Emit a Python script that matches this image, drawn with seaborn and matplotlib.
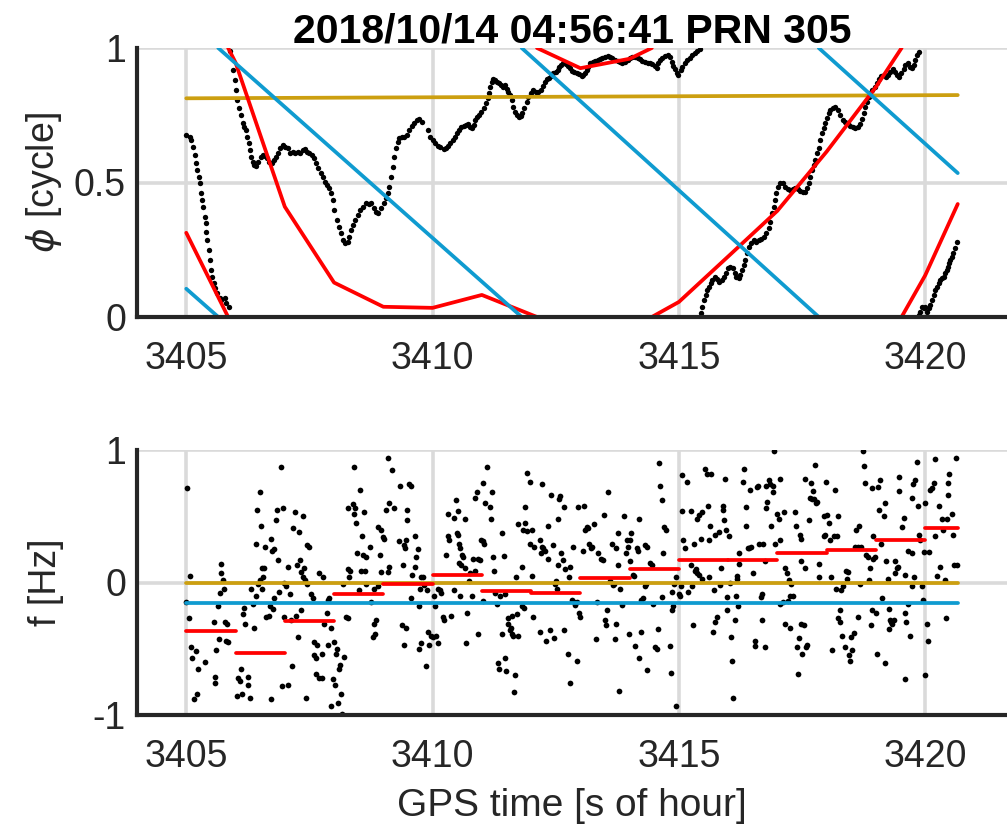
import pandas as pd
import seaborn as sns
import matplotlib.pyplot as plt

# --- valores ---
title = "2018/10/14 04:56:41 PRN 305"
xticks = [3405, 3410, 3415, 3420]
xlim = (3404, 3421.66)

# fase medida (pontos pretos), um trecho entre cada salto de ciclo
phase_1 = [(3405.000, 0.677), (3405.068, 0.670), (3405.101, 0.658), (3405.135, 0.633), (3405.169, 0.602),
           (3405.203, 0.571), (3405.223, 0.546), (3405.250, 0.522), (3405.270, 0.497), (3405.304, 0.460),
           (3405.324, 0.435), (3405.345, 0.410), (3405.372, 0.373), (3405.392, 0.348), (3405.405, 0.317),
           (3405.426, 0.286), (3405.453, 0.249), (3405.473, 0.212), (3405.507, 0.175), (3405.527, 0.150),
           (3405.554, 0.125), (3405.588, 0.107), (3405.628, 0.088), (3405.676, 0.069), (3405.709, 0.063),
           (3405.777, 0.069), (3405.811, 0.051), (3405.858, 0.038)]
phase_2 = [(3405.878, 0.990), (3405.946, 0.918), (3405.980, 0.881), (3406.000, 0.844), (3406.020, 0.807),
           (3406.061, 0.776), (3406.101, 0.751), (3406.149, 0.720), (3406.182, 0.705), (3406.216, 0.695),
           (3406.236, 0.670), (3406.264, 0.646), (3406.284, 0.621), (3406.318, 0.596), (3406.351, 0.577),
           (3406.385, 0.565), (3406.419, 0.561), (3406.453, 0.577), (3406.507, 0.596), (3406.554, 0.602),
           (3406.601, 0.599), (3406.642, 0.590), (3406.689, 0.577), (3406.736, 0.571), (3406.777, 0.584),
           (3406.824, 0.596), (3406.872, 0.608), (3406.912, 0.627), (3406.959, 0.640), (3407.007, 0.633),
           (3407.061, 0.627), (3407.115, 0.608), (3407.162, 0.615), (3407.209, 0.611), (3407.264, 0.615),
           (3407.318, 0.611), (3407.365, 0.621), (3407.412, 0.623), (3407.453, 0.615), (3407.500, 0.608),
           (3407.547, 0.602), (3407.601, 0.590), (3407.635, 0.571), (3407.682, 0.553), (3407.736, 0.534),
           (3407.770, 0.522), (3407.818, 0.503), (3407.858, 0.491), (3407.905, 0.478), (3407.939, 0.460),
           (3407.973, 0.435), (3408.007, 0.398), (3408.061, 0.361), (3408.108, 0.336), (3408.142, 0.311),
           (3408.176, 0.286), (3408.223, 0.274), (3408.277, 0.280), (3408.311, 0.299), (3408.345, 0.323),
           (3408.378, 0.342), (3408.426, 0.361), (3408.480, 0.379), (3408.534, 0.398), (3408.581, 0.410),
           (3408.649, 0.423), (3408.703, 0.420), (3408.750, 0.423), (3408.804, 0.404), (3408.851, 0.392),
           (3408.899, 0.388), (3408.953, 0.404), (3409.007, 0.423), (3409.054, 0.441), (3409.088, 0.460),
           (3409.122, 0.485), (3409.155, 0.522), (3409.189, 0.559), (3409.223, 0.596), (3409.257, 0.627),
           (3409.291, 0.652), (3409.324, 0.664), (3409.378, 0.670), (3409.426, 0.670), (3409.473, 0.677),
           (3409.527, 0.695), (3409.574, 0.710), (3409.628, 0.720), (3409.682, 0.732), (3409.730, 0.735),
           (3409.777, 0.726), (3409.905, 0.695), (3409.953, 0.670), (3410.000, 0.658), (3410.054, 0.646),
           (3410.108, 0.636), (3410.155, 0.631), (3410.223, 0.623), (3410.270, 0.627), (3410.311, 0.636),
           (3410.358, 0.646), (3410.405, 0.658), (3410.446, 0.670), (3410.493, 0.683), (3410.527, 0.695),
           (3410.581, 0.705), (3410.628, 0.710), (3410.676, 0.714), (3410.716, 0.718), (3410.764, 0.705),
           (3410.797, 0.701), (3410.831, 0.714), (3410.865, 0.732), (3410.899, 0.742), (3410.946, 0.751),
           (3410.986, 0.763), (3411.034, 0.776), (3411.081, 0.794), (3411.122, 0.813), (3411.149, 0.831),
           (3411.169, 0.856), (3411.203, 0.875), (3411.236, 0.884), (3411.270, 0.881), (3411.304, 0.875),
           (3411.351, 0.869), (3411.392, 0.862), (3411.439, 0.856), (3411.473, 0.862), (3411.507, 0.846),
           (3411.541, 0.838), (3411.574, 0.825), (3411.608, 0.807), (3411.642, 0.782), (3411.676, 0.763),
           (3411.709, 0.751), (3411.757, 0.745), (3411.797, 0.747), (3411.824, 0.757), (3411.865, 0.776),
           (3411.912, 0.800), (3411.946, 0.819), (3412.000, 0.834), (3412.047, 0.844), (3412.095, 0.838),
           (3412.149, 0.838), (3412.203, 0.844), (3412.250, 0.859), (3412.284, 0.875), (3412.318, 0.884),
           (3412.365, 0.887), (3412.405, 0.896), (3412.453, 0.906), (3412.500, 0.912), (3412.541, 0.918),
           (3412.568, 0.928), (3412.608, 0.937), (3412.655, 0.943), (3412.703, 0.941), (3412.743, 0.933),
           (3412.791, 0.924), (3412.838, 0.916), (3412.878, 0.912), (3412.926, 0.906), (3412.973, 0.902),
           (3413.027, 0.896), (3413.061, 0.900), (3413.095, 0.908), (3413.128, 0.918), (3413.162, 0.928),
           (3413.196, 0.943), (3413.230, 0.945), (3413.264, 0.949), (3413.297, 0.953), (3413.351, 0.955),
           (3413.399, 0.958), (3413.446, 0.962), (3413.500, 0.968), (3413.554, 0.970), (3413.601, 0.968),
           (3413.649, 0.962), (3413.703, 0.955), (3413.757, 0.953), (3413.804, 0.949), (3413.851, 0.945),
           (3413.905, 0.949), (3413.959, 0.955), (3414.007, 0.962), (3414.054, 0.968), (3414.108, 0.965),
           (3414.162, 0.962), (3414.209, 0.958), (3414.257, 0.953), (3414.311, 0.949), (3414.365, 0.945),
           (3414.412, 0.943), (3414.459, 0.941), (3414.514, 0.933), (3414.547, 0.924), (3414.581, 0.943),
           (3414.615, 0.955), (3414.649, 0.962), (3414.716, 0.970), (3414.770, 0.974), (3414.818, 0.965),
           (3414.851, 0.949), (3414.885, 0.933), (3414.919, 0.921), (3414.953, 0.906), (3414.986, 0.900),
           (3415.034, 0.918), (3415.068, 0.931), (3415.122, 0.943), (3415.169, 0.955), (3415.216, 0.962),
           (3415.270, 0.974), (3415.324, 0.983), (3415.372, 0.990), (3415.419, 0.995)]
phase_3 = [(3415.439, 0.016), (3415.473, 0.038), (3415.507, 0.063), (3415.541, 0.082), (3415.574, 0.100),
           (3415.608, 0.113), (3415.642, 0.125), (3415.676, 0.138), (3415.730, 0.148), (3415.777, 0.140),
           (3415.811, 0.131), (3415.865, 0.138), (3415.912, 0.148), (3415.946, 0.162), (3416.000, 0.181),
           (3416.047, 0.187), (3416.095, 0.181), (3416.135, 0.162), (3416.169, 0.148), (3416.216, 0.144),
           (3416.250, 0.156), (3416.284, 0.175), (3416.318, 0.193), (3416.351, 0.212), (3416.385, 0.237),
           (3416.419, 0.261), (3416.473, 0.274), (3416.520, 0.286), (3416.568, 0.280), (3416.622, 0.286),
           (3416.676, 0.289), (3416.723, 0.299), (3416.770, 0.311), (3416.824, 0.330), (3416.858, 0.354),
           (3416.892, 0.385), (3416.926, 0.410), (3416.946, 0.435), (3416.973, 0.460), (3417.014, 0.485),
           (3417.061, 0.497), (3417.108, 0.497), (3417.162, 0.485), (3417.216, 0.475), (3417.264, 0.472),
           (3417.311, 0.475), (3417.365, 0.478), (3417.419, 0.475), (3417.466, 0.470), (3417.514, 0.466),
           (3417.568, 0.466), (3417.601, 0.478), (3417.635, 0.497), (3417.669, 0.522), (3417.703, 0.546),
           (3417.736, 0.565), (3417.770, 0.584), (3417.804, 0.608), (3417.838, 0.627), (3417.872, 0.658),
           (3417.905, 0.683), (3417.939, 0.701), (3417.973, 0.720), (3418.007, 0.738), (3418.041, 0.757),
           (3418.074, 0.770), (3418.122, 0.776), (3418.176, 0.782), (3418.230, 0.770), (3418.277, 0.751),
           (3418.324, 0.732), (3418.378, 0.726), (3418.432, 0.720), (3418.480, 0.710), (3418.527, 0.705),
           (3418.581, 0.701), (3418.635, 0.708), (3418.682, 0.718), (3418.716, 0.735), (3418.750, 0.757),
           (3418.784, 0.782), (3418.818, 0.800), (3418.851, 0.819), (3418.885, 0.831), (3418.919, 0.844),
           (3418.973, 0.856), (3419.020, 0.869), (3419.068, 0.884), (3419.108, 0.896), (3419.155, 0.900),
           (3419.203, 0.893), (3419.243, 0.900), (3419.291, 0.912), (3419.338, 0.921), (3419.392, 0.912),
           (3419.426, 0.900), (3419.459, 0.893), (3419.514, 0.906), (3419.561, 0.921), (3419.595, 0.937),
           (3419.642, 0.943), (3419.682, 0.931), (3419.730, 0.924), (3419.764, 0.937), (3419.797, 0.955),
           (3419.831, 0.974), (3419.865, 0.986)]
phase_4 = [(3419.865, 0.007), (3419.899, 0.020), (3419.932, 0.038), (3419.966, 0.032), (3420.000, 0.038),
           (3420.034, 0.020), (3420.068, 0.032), (3420.101, 0.045), (3420.135, 0.063), (3420.169, 0.082),
           (3420.203, 0.100), (3420.236, 0.113), (3420.270, 0.125), (3420.304, 0.138), (3420.338, 0.144),
           (3420.372, 0.150), (3420.405, 0.162), (3420.439, 0.175), (3420.459, 0.187), (3420.486, 0.200),
           (3420.507, 0.212), (3420.541, 0.224), (3420.574, 0.237), (3420.608, 0.255), (3420.642, 0.280)]

# modelos de fase (linhas), trechos separados nos saltos de ciclo
red_phase = [[(3405.0, 0.313), (3405.85, 0.0)],
             [(3405.85, 1.0), (3406.0, 0.946), (3407.0, 0.41), (3408.0, 0.128), (3409.0, 0.038),
              (3410.0, 0.034), (3411.0, 0.082), (3412.12, 0.0)],
             [(3412.12, 1.0), (3413.0, 0.925), (3414.0, 0.96), (3414.45, 1.0)],
             [(3414.45, 0.0), (3415.0, 0.056), (3416.0, 0.225), (3417.0, 0.395), (3418.0, 0.615),
              (3419.0, 0.855), (3419.52, 1.0)],
             [(3419.52, 0.0), (3420.0, 0.155), (3420.66, 0.42)]]
blue_phase = [[(3405.0, 0.105), (3405.65, 0.0)],
              [(3405.65, 1.0), (3411.81, 0.0)],
              [(3411.81, 1.0), (3417.84, 0.0)],
              [(3417.84, 1.0), (3420.66, 0.535)]]
gold_phase = [[(3405.0, 0.813), (3420.66, 0.825)]]

# frequência instantânea (pontos pretos)
freq_a = [(3405.02, 0.71), (3405.07, 0.05), (3405.00, -0.15), (3405.05, -0.27), (3405.09, -0.49), (3405.11, -0.57),
          (3405.20, -0.52), (3405.24, -0.65), (3405.15, -0.88), (3405.22, -0.84), (3405.39, -0.60), (3405.57, -0.30),
          (3405.61, -0.51), (3405.59, -0.71), (3405.59, -0.76), (3405.64, -0.18), (3405.71, 0.14), (3405.71, 0.07),
          (3405.74, 0.02), (3405.76, -0.05), (3405.69, -0.08), (3405.78, -0.30), (3405.83, -0.31), (3405.66, -0.43),
          (3405.81, -0.44), (3405.84, -0.45), (3406.11, -0.65), (3406.05, -0.72), (3406.09, -0.74), (3406.03, -0.86),
          (3406.14, -0.84), (3406.25, -0.71), (3406.26, -0.77), (3406.30, -0.87), (3406.15, -0.24), (3406.18, -0.19),
          (3406.20, -0.31), (3406.37, -0.34), (3406.35, -0.16), (3406.32, -0.05), (3406.42, -0.10), (3406.45, -0.01),
          (3406.49, 0.02), (3406.53, -0.05), (3406.55, 0.04), (3406.53, 0.11), (3406.57, 0.11), (3406.42, 0.29),
          (3406.44, 0.55), (3406.49, 0.68), (3406.51, 0.43), (3406.60, 0.27), (3406.72, 0.33), (3406.74, 0.24),
          (3406.78, 0.25), (3406.62, -0.26), (3406.67, -0.25), (3406.76, -0.20), (3406.79, -0.12), (3406.69, -0.18),
          (3406.71, -0.88), (3406.87, 0.17), (3406.82, 0.47), (3406.84, 0.55), (3406.93, 0.87), (3406.96, 0.56),
          (3406.89, -0.07), (3406.99, 0.00), (3407.03, -0.03), (3406.99, -0.26), (3407.07, 0.12), (3407.11, -0.09),
          (3407.13, -0.28), (3407.14, -0.63), (3406.95, -0.78), (3407.07, -0.77), (3407.16, 0.41), (3407.21, 0.53),
          (3407.28, 0.38), (3407.36, 0.50), (3407.30, 0.17), (3407.25, 0.13), (3407.32, 0.08), (3407.39, 0.11),
          (3407.36, 0.04), (3407.42, 0.02), (3407.45, -0.01), (3407.23, -0.25), (3407.33, -0.21), (3407.26, -0.41),
          (3407.45, 0.28), (3407.50, 0.27), (3407.44, -0.87), (3407.53, -0.09), (3407.57, -0.12), (3407.60, -0.45),
          (3407.65, -0.47), (3407.59, -0.55), (3407.64, -0.69), (3407.70, -0.72), (3407.75, -0.72), (3407.69, 0.07),
          (3407.77, 0.04), (3407.75, -0.54), (3407.64, -0.57), (3407.87, -0.13), (3407.89, -0.12), (3407.86, -0.23),
          (3407.80, -0.31), (3407.94, -0.34), (3407.87, -0.47), (3407.99, -0.45), (3408.05, -0.50), (3408.04, -0.54),
          (3408.11, -0.65), (3408.13, -0.62), (3408.21, -0.56), (3407.97, -0.73), (3408.01, -0.77), (3407.93, -0.93),
          (3408.09, -0.91), (3408.14, -0.84), (3408.16, -0.99), (3408.24, -0.26), (3408.28, -0.27), (3408.28, 0.10),
          (3408.32, 0.09), (3408.31, 0.04), (3408.19, -0.01), (3408.40, 0.87), (3408.29, 0.56), (3408.38, 0.59),
          (3408.43, 0.56), (3408.41, 0.52), (3408.45, 0.45), (3408.53, 0.70), (3408.60, 0.53), (3408.57, 0.35),
          (3408.47, 0.22), (3408.55, 0.09), (3408.63, 0.09), (3408.58, 0.21), (3408.65, 0.19), (3408.72, 0.27),
          (3408.50, -0.06), (3408.65, -0.01), (3408.75, -0.15), (3408.82, -0.05), (3408.82, -0.31), (3408.85, -0.28),
          (3408.80, -0.41), (3408.84, -0.39), (3408.90, 0.42), (3408.95, 0.40), (3408.99, 0.34), (3409.02, 0.33),
          (3408.94, 0.21), (3408.89, -0.03), (3408.95, 0.08), (3409.09, 0.94), (3409.17, 0.85), (3409.06, 0.55),
          (3409.12, 0.60), (3409.21, 0.56), (3409.12, 0.12), (3409.09, 0.08), (3409.34, 0.73), (3409.57, 0.73),
          (3409.53, 0.74), (3409.49, 0.55), (3409.49, 0.47), (3409.32, 0.31), (3409.39, 0.13), (3409.41, 0.28),
          (3409.43, 0.26), (3409.46, 0.32), (3409.65, 0.35), (3409.71, 0.25), (3409.66, 0.19), (3409.64, 0.12),
          (3409.59, 0.06), (3409.76, 0.04), (3409.80, 0.04), (3409.75, -0.05), (3409.83, -0.02), (3409.88, -0.06),
          (3409.56, -0.12), (3409.72, -0.18), (3409.38, -0.32), (3409.46, -0.34), (3409.41, -0.47), (3409.76, -0.46),
          (3409.73, -0.50), (3409.86, -0.63), (3409.90, -0.37), (3409.97, -0.40), (3410.00, -0.41), (3409.93, -0.47)]
freq_b = [(3410.02, -0.10), (3410.05, -0.18), (3410.07, -0.40), (3410.10, -0.46), (3410.12, -0.05), (3410.16, -0.06),
          (3410.18, -0.08), (3410.22, -0.26), (3410.24, -0.28), (3410.38, -0.25), (3410.27, 0.21), (3410.31, 0.35),
          (3410.34, 0.32), (3410.32, 0.52), (3410.43, 0.49), (3410.47, 0.62), (3410.51, 0.54), (3410.49, 0.37),
          (3410.51, 0.36), (3410.53, 0.29), (3410.55, 0.26), (3410.43, -0.06), (3410.56, -0.10), (3410.59, 0.21),
          (3410.61, 0.19), (3410.53, 0.15), (3410.58, 0.13), (3410.65, 0.11), (3410.66, 0.48), (3410.70, -0.23),
          (3410.68, -0.46), (3410.73, 0.01), (3410.76, 0.07), (3410.80, -0.10), (3410.83, 0.18), (3410.86, 0.09),
          (3410.93, 0.18), (3410.90, 0.68), (3410.97, 0.17), (3410.86, 0.64), (3411.02, 0.75), (3410.99, 0.32),
          (3411.03, 0.31), (3411.05, 0.29), (3411.07, 0.60), (3411.11, 0.87), (3411.16, 0.57), (3411.18, 0.48),
          (3411.20, 0.68), (3410.92, -0.39), (3411.03, -0.14), (3411.22, 0.19), (3411.24, 0.09), (3411.27, -0.08),
          (3411.30, -0.16), (3411.37, -0.10), (3411.41, 0.37), (3411.45, 0.20), (3411.47, -0.09), (3411.53, -0.27),
          (3411.54, -0.31), (3411.57, -0.36), (3411.59, -0.34), (3411.62, -0.25), (3411.61, -0.39), (3411.64, -0.40),
          (3411.71, -0.24), (3411.74, -0.40), (3411.41, -0.39), (3411.32, -0.61), (3411.35, -0.65), (3411.47, -0.57),
          (3411.49, -0.67), (3411.68, -0.70), (3411.66, -0.83), (3411.70, 0.04), (3411.81, 0.12), (3411.82, -0.18),
          (3411.86, -0.19), (3411.74, 0.44), (3411.88, 0.45), (3411.88, 0.57), (3411.91, 0.83), (3411.98, 0.76),
          (3411.98, 0.29), (3411.84, 0.40), (3411.91, 0.39), (3412.01, 0.40), (3412.05, 0.27), (3412.03, -0.26),
          (3412.01, 0.05), (3412.18, 0.32), (3412.22, 0.27), (3412.25, 0.26), (3412.28, 0.24), (3412.20, 0.22),
          (3412.23, 0.74), (3412.40, 0.66), (3412.59, 0.65), (3412.57, 0.63), (3412.66, 0.57), (3412.54, 0.48),
          (3412.35, 0.43), (3412.45, 0.28), (3412.34, 0.18), (3412.49, -0.01), (3412.51, 0.01), (3412.52, -0.05),
          (3412.61, 0.22), (3412.64, 0.17), (3412.68, 0.10), (3412.55, 0.13), (3412.78, 0.12), (3412.77, 0.04),
          (3412.18, -0.37), (3412.30, -0.44), (3412.39, -0.36), (3412.47, -0.42), (3412.66, -0.36), (3412.74, -0.54),
          (3412.79, -0.76), (3412.93, -0.59), (3412.82, -0.13), (3412.87, -0.15), (3412.89, -0.17), (3412.93, -0.15),
          (3412.97, -0.23), (3412.99, -0.26), (3412.95, 0.57), (3413.08, 0.58), (3412.86, 0.27), (3413.09, 0.40),
          (3413.14, 0.42), (3413.16, 0.41), (3413.05, 0.24), (3413.18, 0.29), (3413.21, 0.26), (3413.23, 0.27),
          (3413.28, 0.44), (3413.31, -0.43), (3413.34, -0.15), (3413.36, 0.22), (3413.41, 0.18), (3413.45, 0.17),
          (3413.47, 0.51), (3413.50, -0.28), (3413.53, -0.32), (3413.57, 0.68), (3413.55, -0.21), (3413.60, 0.01),
          (3413.64, 0.29), (3413.66, -0.02), (3413.68, -0.01), (3413.70, -0.43), (3413.72, -0.31), (3413.72, 0.26),
          (3413.76, 0.37), (3413.77, 0.13), (3413.80, -0.05), (3413.79, -0.82), (3413.84, -0.17), (3413.89, 0.50),
          (3413.93, 0.22), (3413.94, 0.32), (3413.96, 0.27), (3413.99, -0.39), (3414.01, 0.32), (3414.02, 0.37),
          (3414.01, 0.16), (3414.07, 0.06), (3414.09, 0.05), (3414.11, -0.48), (3414.14, 0.26), (3414.16, 0.24),
          (3414.18, -0.57), (3414.19, 0.48), (3414.23, -0.37), (3414.24, -0.13), (3414.28, -0.12), (3414.31, -0.03),
          (3414.34, -0.01), (3414.32, 0.28), (3414.36, -0.66), (3414.36, 0.27), (3414.41, 0.15), (3414.45, 0.13),
          (3414.47, -0.16), (3414.51, -0.49), (3414.55, -0.50), (3414.58, -0.35), (3414.59, 0.90), (3414.61, 0.73),
          (3414.65, 0.62), (3414.66, -0.11), (3414.68, 0.22), (3414.70, 0.42), (3414.73, 0.40), (3414.82, -0.48),
          (3414.83, -0.68), (3414.85, -0.07), (3414.85, -0.21), (3414.89, -0.18), (3414.91, -0.01), (3414.94, -0.93),
          (3414.95, 0.04)]
freq_c = [(3415.01, -0.09), (3415.03, -0.10), (3415.05, -0.03), (3415.07, 0.81), (3415.16, 0.76), (3415.07, 0.54),
          (3415.08, 0.32), (3415.12, 0.26), (3415.19, -0.07), (3415.24, 0.13), (3415.27, -0.03), (3415.28, -0.32),
          (3415.24, 0.54), (3415.30, 0.29), (3415.32, 0.09), (3415.35, 0.10), (3415.37, 0.07), (3415.41, 0.51),
          (3415.41, 0.06), (3415.44, 0.33), (3415.46, 0.03), (3415.53, 0.86), (3415.57, 0.82), (3415.61, 0.32),
          (3415.59, 0.58), (3415.63, 0.43), (3415.66, 0.82), (3415.47, 0.53), (3415.37, 0.48), (3415.61, 0.04),
          (3415.71, -0.06), (3415.69, -0.37), (3415.73, 0.36), (3415.74, -0.30), (3415.78, -0.26), (3415.81, 0.38),
          (3415.84, -0.02), (3415.86, 0.11), (3415.89, 0.58), (3415.89, 0.55), (3415.93, 0.78), (3415.91, 0.47),
          (3415.95, 0.40), (3415.98, -0.21), (3415.98, -0.11), (3416.01, 0.35), (3416.03, 0.00), (3416.05, -0.41),
          (3416.08, -0.59), (3416.09, -0.87), (3416.14, -0.28), (3416.15, -0.10), (3416.18, 0.05), (3416.18, 0.03),
          (3416.20, -0.18), (3416.22, 0.22), (3416.23, 0.14), (3416.32, 0.86), (3416.30, 0.76), (3416.36, 0.43),
          (3416.37, 0.57), (3416.41, 0.26), (3416.43, 0.26), (3416.47, 0.27), (3416.45, 0.70), (3416.50, 0.07),
          (3416.54, -0.44), (3416.55, -0.48), (3416.59, 0.72), (3416.61, 0.73), (3416.62, 0.29), (3416.66, -0.11),
          (3416.68, -0.09), (3416.69, -0.28), (3416.70, 0.29), (3416.76, 0.73), (3416.74, 0.16), (3416.74, -0.49),
          (3416.77, 0.56), (3416.79, 0.61), (3416.82, 0.77), (3416.84, 0.74), (3416.86, 0.43), (3416.91, 0.68),
          (3416.91, 0.73), (3416.93, 0.99), (3416.96, 0.29), (3416.99, 0.52), (3417.03, 0.48), (3417.05, -0.16),
          (3417.06, 0.32), (3417.06, 0.78), (3417.11, -0.15), (3417.13, 0.53), (3417.15, 0.11), (3417.16, -0.31),
          (3417.20, 0.07), (3417.22, -0.14), (3417.23, 0.02), (3417.25, -0.34), (3417.26, -0.10), (3417.28, -0.01),
          (3417.31, -0.10), (3417.35, 0.53), (3417.38, 0.43), (3417.40, -0.49), (3417.42, -0.69), (3417.43, -0.42),
          (3417.45, 0.36), (3417.47, 0.33), (3417.47, -0.31), (3417.47, 0.16), (3417.50, -0.54), (3417.53, -0.32),
          (3417.55, 0.11), (3417.55, 0.78), (3417.58, -0.49), (3417.60, -0.47), (3417.64, 0.47), (3417.67, 0.64),
          (3417.69, 0.75), (3417.70, 0.63), (3417.72, 0.69), (3417.74, 0.63), (3417.77, 0.89), (3417.78, 0.60),
          (3417.80, 0.61), (3417.84, 0.14), (3417.84, 0.04), (3417.94, 0.35), (3417.96, 0.36), (3417.95, 0.50),
          (3417.99, 0.76), (3418.01, 0.51), (3418.05, 0.45), (3418.07, 0.32), (3418.09, 0.04), (3418.11, -0.51),
          (3418.14, 0.35), (3418.16, 0.70), (3418.18, -0.05), (3418.21, 0.35), (3418.23, 0.50), (3418.23, -0.27),
          (3418.28, -0.30), (3418.28, -0.21), (3418.31, -0.40), (3418.30, -0.06), (3418.34, -0.03), (3418.38, -0.49),
          (3418.39, 0.09), (3418.41, 0.03), (3418.43, 0.08), (3418.46, -0.55), (3418.48, -0.59), (3418.50, -0.41),
          (3418.51, -0.51), (3418.55, -0.38), (3418.58, 0.27), (3418.59, 0.40), (3418.64, 0.27), (3418.64, -0.26),
          (3418.65, 0.43), (3418.68, -0.01), (3418.70, 0.27), (3418.73, 0.99), (3418.75, 0.88), (3418.77, 0.75),
          (3418.80, 0.21), (3418.84, 0.19), (3418.85, 0.02), (3418.87, 0.11), (3418.89, -0.32), (3418.91, -0.21),
          (3418.92, 0.71), (3418.93, 0.18), (3418.95, 0.35), (3418.99, 0.19), (3419.01, -0.23), (3419.02, -0.54),
          (3419.04, 0.72), (3419.07, 0.55), (3419.09, 0.77), (3419.11, 0.29), (3419.12, -0.12), (3419.16, 0.50),
          (3419.18, -0.61), (3419.19, 0.60), (3419.20, 0.16), (3419.24, 0.03), (3419.26, -0.20), (3419.27, -0.35),
          (3419.29, -0.28), (3419.31, -0.30), (3419.32, -0.31), (3419.36, -0.28), (3419.38, 0.16), (3419.39, 0.07),
          (3419.43, 0.11), (3419.45, 0.12), (3419.46, 0.80), (3419.47, 0.69), (3419.53, 0.42), (3419.56, 0.49),
          (3419.58, 0.06), (3419.59, -0.73), (3419.59, -0.23), (3419.61, -0.30), (3419.65, -0.16), (3419.66, 0.24),
          (3419.70, -0.40), (3419.73, 0.64), (3419.74, -0.03), (3419.74, 0.22), (3419.76, 0.74), (3419.78, 0.04),
          (3419.80, 0.77), (3419.83, 0.91), (3419.85, 0.58), (3419.88, 0.36), (3419.90, 0.32), (3419.93, -0.03),
          (3419.95, -0.13), (3419.97, 0.23), (3419.99, -0.70), (3420.00, 0.60), (3420.03, -0.31), (3420.05, -0.44),
          (3420.08, 0.23), (3420.10, 0.70), (3420.14, 0.71), (3420.17, 0.75), (3420.19, 0.35), (3420.20, 0.93),
          (3420.24, 0.05), (3420.27, 0.58), (3420.30, 0.12), (3420.34, 0.48), (3420.37, 0.40), (3420.41, 0.02),
          (3420.42, -0.27), (3420.44, 0.48), (3420.46, 0.66), (3420.47, 0.75), (3420.49, 0.82), (3420.54, 0.52),
          (3420.57, 0.36), (3420.59, 0.13), (3420.62, 0.94), (3420.64, 0.13)]

# frequência estimada por segundo (degraus vermelhos)
step_start = [3405, 3406, 3407, 3408, 3409, 3410, 3411, 3412, 3413, 3414, 3415, 3416, 3417, 3418, 3419, 3420]
step_end = [3406, 3407, 3408, 3409, 3410, 3411, 3412, 3413, 3414, 3415, 3416, 3417, 3418, 3419, 3420, 3420.66]
step_freq = [-0.365, -0.53, -0.29, -0.09, -0.01, 0.055, -0.065, -0.08, 0.035, 0.105,
             0.17, 0.17, 0.22, 0.245, 0.32, 0.415]
gold_freq = [[(3405.0, 0.0), (3420.66, 0.0)]]
blue_freq = [[(3405.0, -0.157), (3420.66, -0.157)]]

RED = '#ff0000'
BLUE = '#0f9bd0'
GOLD = '#cc9f10'
INK = '#262626'


def seg_frame(segments):
    rows = []
    for k, seg in enumerate(segments):
        for t, v in seg:
            rows.append((t, v, k))
    return pd.DataFrame(rows, columns=['t', 'v', 'seg'])


def pts_frame(*groups):
    rows = [p for g in groups for p in g]
    return pd.DataFrame(rows, columns=['t', 'v'])


def draw_lines(ax, segments, color):
    sns.lineplot(data=seg_frame(segments), x='t', y='v', units='seg', estimator=None,
                 sort=False, color=color, lw=2.7, ax=ax, legend=False)


def style_axes(ax, yticks, ylabels):
    ax.set_xlim(*xlim)
    ax.set_xticks(xticks)
    ax.set_xticklabels([str(x) for x in xticks])
    ax.set_ylim(yticks[0], yticks[-1])
    ax.set_yticks(yticks)
    ax.set_yticklabels(ylabels)
    ax.grid(True, color='#dadada', lw=2.6)
    ax.set_axisbelow(True)
    sns.despine(ax=ax)
    for side in ['left', 'bottom']:
        ax.spines[side].set_linewidth(3)
        ax.spines[side].set_color(INK)
    ax.tick_params(direction='in', length=7, width=2.6, color=INK, labelcolor=INK,
                   labelsize=27)
    ax.tick_params(axis='x', pad=17)
    ax.tick_params(axis='y', pad=8)
    ax.set_xlabel('')
    ax.set_ylabel('')


sns.set_theme(style='white')
plt.rcParams['font.family'] = ['Liberation Sans', 'DejaVu Sans']
plt.rcParams['axes.unicode_minus'] = False

fig = plt.figure(figsize=(10.07, 8.27), dpi=100)
ax1 = fig.add_axes([137 / 1007, 1 - 317 / 827, 870 / 1007, 269 / 827])
ax2 = fig.add_axes([137 / 1007, 1 - 715 / 827, 870 / 1007, 265 / 827])

# --- fase ---
draw_lines(ax1, gold_phase, GOLD)
draw_lines(ax1, red_phase, RED)
draw_lines(ax1, blue_phase, BLUE)
ph = pts_frame(phase_1, phase_2, phase_3, phase_4)
sns.scatterplot(data=ph, x='t', y='v', s=15, color='black', linewidth=0, ax=ax1, legend=False)
style_axes(ax1, [0, 0.5, 1], ['0', '0.5', '1'])
ax1.set_ylabel(r'$\phi$ [cycle]', fontsize=27, color=INK)
ax1.yaxis.set_label_coords(-0.084, 0.5)
ax1.set_title(title, fontsize=29.5, fontweight='bold', color='black', pad=4)

# --- frequencia ---
draw_lines(ax2, gold_freq, GOLD)
draw_lines(ax2, blue_freq, BLUE)
steps = [[(a, f), (b, f)] for a, b, f in zip(step_start, step_end, step_freq)]
draw_lines(ax2, steps, RED)
fr = pts_frame(freq_a, freq_b, freq_c)
sns.scatterplot(data=fr, x='t', y='v', s=17, color='black', linewidth=0, ax=ax2, legend=False)
style_axes(ax2, [-1, 0, 1], ['-1', '0', '1'])
ax2.set_ylabel('f [Hz]', fontsize=27, color=INK)
ax2.yaxis.set_label_coords(-0.084, 0.5)
ax2.set_xlabel('GPS time [s of hour]', fontsize=28, color=INK, labelpad=10)

fig.savefig('out.png', dpi=100)
plt.close(fig)
